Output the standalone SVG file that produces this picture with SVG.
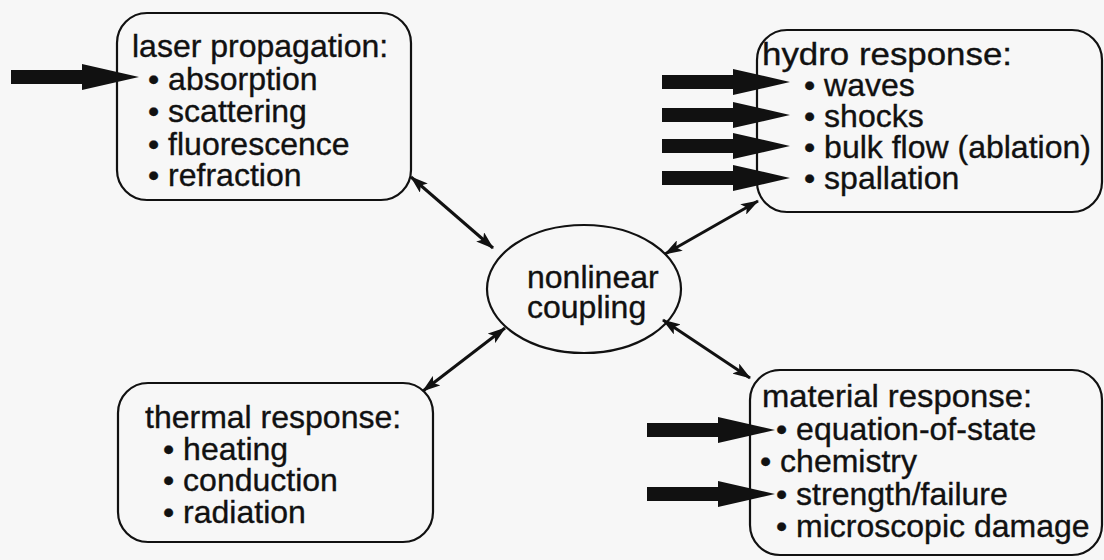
<svg xmlns="http://www.w3.org/2000/svg" width="1104" height="560" viewBox="0 0 1104 560">
<style>
.bg{fill:#f7f7f7}
.box{fill:none;stroke:#111;stroke-width:2.2}
.t{font-family:"Liberation Sans",Arial,Helvetica,sans-serif;font-size:32px;fill:#111;stroke:#111;stroke-width:0.35}
.link{stroke:#111;stroke-width:3;fill:none;marker-start:url(#ah);marker-end:url(#ah)}
.big{fill:#111}
</style>
<defs>
<marker id="ah" viewBox="0 0 18 12" refX="17" refY="6" markerWidth="18" markerHeight="12" markerUnits="userSpaceOnUse" orient="auto-start-reverse">
<path d="M0,0 L18,6 L0,12 L4,6 z" fill="#111"/>
</marker>
<path id="bigArrow" d="M-128,-7 H-57 V-13 L0,0 L-57,13 V7 H-128 Z"/>
</defs>
<rect class="bg" x="0" y="0" width="1104" height="560"/>

<g id="laser">
<rect class="box" x="117" y="13" width="294" height="187" rx="30"/>
<text class="t" x="132" y="57">laser propagation:</text>
<text class="t" x="148" y="90">• absorption</text>
<text class="t" x="148" y="122">• scattering</text>
<text class="t" x="148" y="155">• fluorescence</text>
<text class="t" x="148" y="186">• refraction</text>
</g>

<g id="hydro">
<rect class="box" x="757" y="30" width="345" height="182" rx="30"/>
<text class="t" x="762" y="65" textLength="250" lengthAdjust="spacingAndGlyphs">hydro response:</text>
<text class="t" x="804" y="96">• waves</text>
<text class="t" x="804" y="127">• shocks</text>
<text class="t" x="804" y="158">• bulk flow (ablation)</text>
<text class="t" x="804" y="189">• spallation</text>
</g>

<g id="coupling">
<ellipse class="box" cx="584" cy="289" rx="97" ry="64"/>
<text class="t" x="527" y="288">nonlinear</text>
<text class="t" x="527" y="318">coupling</text>
</g>

<g id="thermal">
<rect class="box" x="118" y="383" width="315" height="159" rx="30"/>
<text class="t" x="145" y="428">thermal response:</text>
<text class="t" x="163" y="460">• heating</text>
<text class="t" x="163" y="491">• conduction</text>
<text class="t" x="163" y="523">• radiation</text>
</g>

<g id="material">
<rect class="box" x="750" y="370" width="352" height="185" rx="30"/>
<text class="t" x="762" y="407" textLength="270" lengthAdjust="spacingAndGlyphs">material response:</text>
<text class="t" x="776" y="440">• equation-of-state</text>
<text class="t" x="760" y="472">• chemistry</text>
<text class="t" x="776" y="505">• strength/failure</text>
<text class="t" x="776" y="537">• microscopic damage</text>
</g>

<g id="connectors">
<line class="link" x1="411" y1="177" x2="493" y2="248"/>
<line class="link" x1="665" y1="254" x2="758" y2="201"/>
<line class="link" x1="505" y1="328" x2="423" y2="391"/>
<line class="link" x1="663" y1="320" x2="750" y2="378"/>
<use class="big" href="#bigArrow" transform="translate(139,77)"/>
<use class="big" href="#bigArrow" transform="translate(790,82)"/>
<use class="big" href="#bigArrow" transform="translate(790,115)"/>
<use class="big" href="#bigArrow" transform="translate(790,146)"/>
<use class="big" href="#bigArrow" transform="translate(790,178)"/>
<use class="big" href="#bigArrow" transform="translate(775,430)"/>
<use class="big" href="#bigArrow" transform="translate(775,494)"/>
</g>
</svg>
